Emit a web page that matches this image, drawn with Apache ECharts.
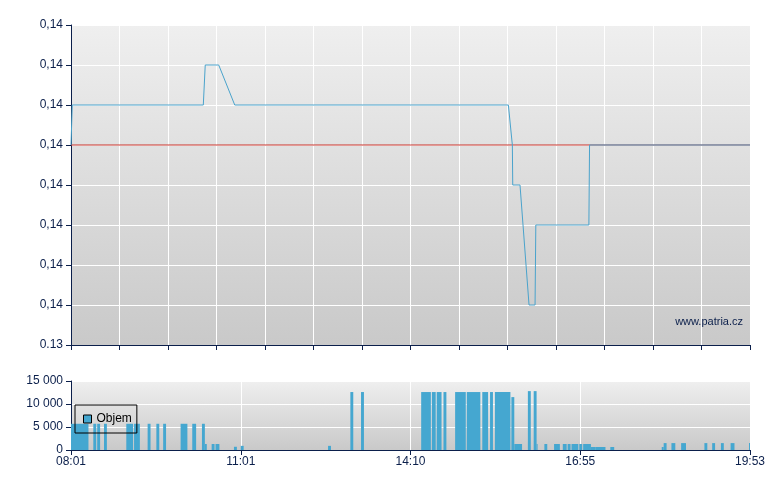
<!DOCTYPE html>
<html>
<head>
<meta charset="utf-8">
<script src="https://cdn.jsdelivr.net/npm/echarts@6/dist/echarts.min.js"></script>
<style>
html,body{margin:0;padding:0;background:#fff;}
#chart{width:780px;height:490px;}
</style>
</head>
<body>
<div id="chart"></div>
<script>
// ---- data ----
var priceTickLabels = ['0.13','0,14','0,14','0,14','0,14','0,14','0,14','0,14','0,14'];
var timeLabels = ['08:01','11:01','14:10','16:55','19:53'];
var volumeTickLabels = ['0','5 000','10 000','15 000'];
var refPrice = 0.1375;
// [slot, price]
var priceData = [
  [0, 0.1375], [1.3, 0.1380], [136.4, 0.1380], [138.4, 0.1385], [152.3, 0.1385],
  [168.8, 0.1380], [450.9, 0.1380], [455.0, 0.1375], [455.4, 0.1370], [462.9, 0.1370],
  [472.2, 0.1355], [478.4, 0.1355], [479.2, 0.1365], [533.9, 0.1365], [534.6, 0.1375],
  [700, 0.1375]
];
// [slotStart, slotEnd, volume]
var volumeData = [
  [0,18,5700],[23,26,5700],[27,30,5700],[34,37,5700],[57,64,5700],[65,71,5700],
  [79,82,5700],[88,91,5700],[95,98,5700],[113,120,5700],[125,129,5700],[135,138,5700],
  [138,140,1300],[145,148,1300],[149,153,1300],[168,171,700],[175,178,900],[265,268,900],
  [288,291,12600],[299,302,12600],[361,371,12600],[372,376,12600],[377,382,12600],
  [384,387,12600],[396,407,12600],[408,422,12600],[424,430,12600],[432,435,12600],
  [437,453,12600],[454,457,11500],[457,465,1300],[471,474,12800],[477,480,12800],
  [480,481,1300],[488,491,1300],[498,504,1300],[507,511,1300],[512,515,1300],
  [516,523,1300],[524,527,1300],[528,536,1300],[536,541,650],[541,551,650],[556,560,650],
  [609,611,650],[611,614,1500],[619,623,1500],[629,634,1500],[653,656,1500],
  [661,664,1500],[670,673,1500],[680,684,1500],[699,700,1500]
];
var slotMin = 0, slotMax = 700;

// ---- styling ----
var navy = '#0b1f4b';
var font = 'Arial, "Liberation Sans", sans-serif';
var lineColor = '#4aa3cc';
var barColor = '#45a7d0';
function bg(){
  return {type:'linear',x:0,y:0,x2:0,y2:1,colorStops:[{offset:0,color:'#efefef'},{offset:1,color:'#c9c9c9'}]};
}

var chart = echarts.init(document.getElementById('chart'), null, {renderer:'canvas'});
var option = {
  animation:false,
  backgroundColor:'#ffffff',
  textStyle:{fontFamily:font},
  grid:[
    {left:71, right:30, top:25, height:320, show:true, backgroundColor:bg(), borderWidth:0},
    {left:71, right:30, top:381, height:69, show:true, backgroundColor:bg(), borderWidth:0}
  ],
  legend:{
    left:75, top:405, orient:'horizontal',
    data:[{name:'Objem', icon:'rect', itemStyle:{borderColor:'#000', borderWidth:1}}],
    itemWidth:8, itemHeight:8,
    padding:[8,5,8,8],
    borderColor:'#000', borderWidth:1, borderRadius:0,
    backgroundColor:'rgba(0,0,0,0)',
    textStyle:{color:'#000', fontSize:12, fontFamily:font},
    selectedMode:false, z:10
  },
  xAxis:[
    {type:'value', gridIndex:0, min:slotMin, max:slotMax, interval:50,
     axisLine:{show:true, onZero:false, lineStyle:{color:navy, width:1}},
     axisTick:{show:true, length:5, lineStyle:{color:navy}},
     axisLabel:{show:false},
     splitLine:{show:true, lineStyle:{color:'#ffffff', width:1}}},
    {type:'value', gridIndex:1, min:slotMin, max:slotMax, interval:175,
     axisLine:{show:true, onZero:false, lineStyle:{color:navy, width:1}},
     axisTick:{show:true, length:5, lineStyle:{color:navy}},
     axisLabel:{show:true, color:navy, fontSize:12, fontFamily:font, margin:6,
       showMinLabel:true, showMaxLabel:true,
       formatter:function(v, i){ return timeLabels[Math.round(v/175)]; }},
     splitLine:{show:true, lineStyle:{color:'#ffffff', width:1}}}
  ],
  yAxis:[
    {type:'value', gridIndex:0, min:0.1350, max:0.1390, interval:0.0005,
     axisLine:{show:true, lineStyle:{color:navy, width:1}},
     axisTick:{show:true, length:5, lineStyle:{color:navy}},
     axisLabel:{color:navy, fontSize:12, fontFamily:font, margin:8,
       formatter:function(v){ return priceTickLabels[Math.round((v-0.1350)/0.0005)]; }},
     splitLine:{show:true, lineStyle:{color:'#ffffff', width:1}}},
    {type:'value', gridIndex:1, min:0, max:15000, interval:5000,
     axisLine:{show:true, lineStyle:{color:navy, width:1}},
     axisTick:{show:true, length:5, lineStyle:{color:navy}},
     axisLabel:{color:navy, fontSize:12, fontFamily:font, margin:8,
       formatter:function(v){ return volumeTickLabels[Math.round(v/5000)]; }},
     splitLine:{show:true, lineStyle:{color:'#ffffff', width:1}}}
  ],
  graphic:[
    {type:'text', right:37, top:316, z:10,
     style:{text:'www.patria.cz', fill:navy, font:'11px Arial, "Liberation Sans", sans-serif'}}
  ],
  series:[
    {name:'ref', type:'line', xAxisIndex:0, yAxisIndex:0, z:1,
     data:[[slotMin, refPrice],[slotMax, refPrice]],
     showSymbol:false, symbol:'none', silent:true,
     lineStyle:{color:'#c8322a', width:1}, itemStyle:{color:'#c8322a'}},
    {name:'Cena', type:'line', xAxisIndex:0, yAxisIndex:0, data:priceData, z:3,
     showSymbol:false, symbol:'none',
     lineStyle:{color:lineColor, width:1}, itemStyle:{color:lineColor}},
    {name:'Objem', type:'custom', xAxisIndex:1, yAxisIndex:1, data:volumeData,
     itemStyle:{color:barColor}, z:2,
     encode:{x:[0,1], y:2},
     renderItem:function(params, api){
       var p0 = api.coord([api.value(0), api.value(2)]);
       var p1 = api.coord([api.value(1), 0]);
       return {type:'rect', shape:{x:p0[0], y:p0[1], width:p1[0]-p0[0], height:p1[1]-p0[1]},
               style:{fill:barColor}};
     }}
  ]
};
chart.setOption(option);
</script>
</body>
</html>
